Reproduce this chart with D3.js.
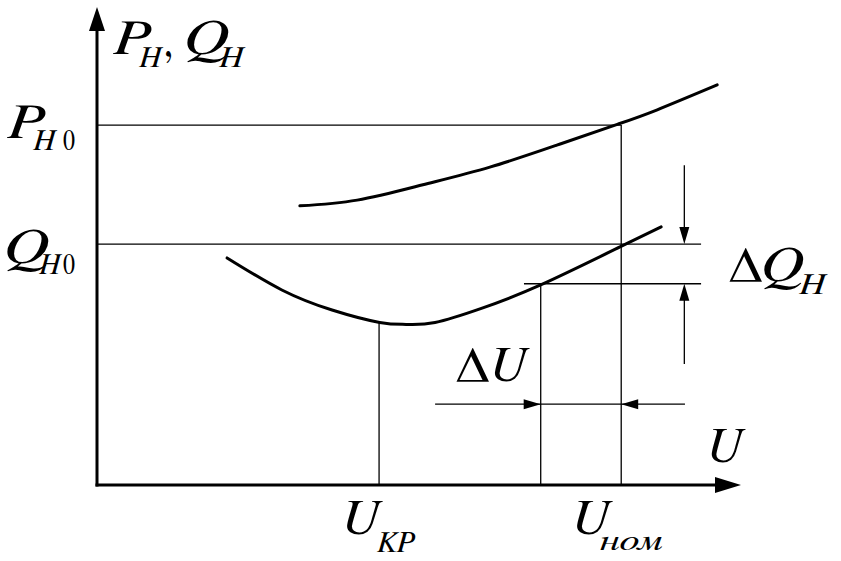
<!DOCTYPE html>
<html>
<head>
<meta charset="utf-8">
<script src="https://cdn.jsdelivr.net/npm/d3@7/dist/d3.min.js"></script>
<style>
html,body{margin:0;padding:0;background:#fff;}
svg{display:block;}
</style>
</head>
<body>
<svg id="chart" width="841" height="561"></svg>
<script>
// ---- data (arbitrary units: U 0..100, P/Q 0..100) ----
const pCurveU = [31.5, 40.4, 50.6, 61.0, 71.4, 80.9, 87.0, 96.3];
const pCurveV = [58.4, 59.6, 62.8, 66.5, 71.1, 75.5, 78.5, 83.7];
const qCurveU = [20.2, 28.7, 36.5, 43.9, 48.0, 52.5, 59.8, 68.8, 81.2, 87.6];
const qCurveV = [47.5, 40.8, 36.6, 34.0, 33.6, 34.0, 37.0, 41.8, 49.8, 54.0];
const markU = [43.8, 68.9, 81.4];          // U_KP, U_nom - ΔU, U_nom
const markQ = [34.0, 42.1, 75.3];          // curve values at those U (vertical line tops)
const levelV = [75.3, 50.4, 42.1];         // P_H0, Q_H0, Q_H0 - ΔQ_H
const levelU0 = [0, 0, 66.3];              // horizontal line starts
const levelU1 = [81.4, 93.8, 93.8];        // horizontal line ends
const dU = {y: 16.9, u0: 52.5, u1: 91.3};
const dQ = {u: 91.2, top: 66.9, bottom: 25.3};

const FONT = "FreeSerif";
const svg = d3.select("#chart");
const x = d3.scaleLinear().domain([0, 100]).range([97, 741]);
const y = d3.scaleLinear().domain([0, 100]).range([485, 7]);

// thin guide lines
const thin = svg.append("g").attr("stroke", "#000").attr("stroke-width", 1.3).attr("fill", "none");
levelV.forEach((v, i) => {
  thin.append("line").attr("x1", x(levelU0[i])).attr("x2", x(levelU1[i]))
      .attr("y1", y(v)).attr("y2", y(v));
});
markU.forEach((u, i) => {
  thin.append("line").attr("x1", x(u)).attr("x2", x(u))
      .attr("y1", y(0)).attr("y2", y(markQ[i]));
});
thin.append("line").attr("x1", x(dU.u0)).attr("x2", x(dU.u1)).attr("y1", y(dU.y)).attr("y2", y(dU.y));
thin.append("line").attr("x1", x(dQ.u)).attr("x2", x(dQ.u)).attr("y1", y(dQ.top)).attr("y2", y(levelV[1]) - 10);
thin.append("line").attr("x1", x(dQ.u)).attr("x2", x(dQ.u)).attr("y1", y(dQ.bottom)).attr("y2", y(levelV[2]) + 10);

function tri(tx, ty, dir, len, hw) {
  let p;
  if (dir === "right") p = [[tx, ty], [tx - len, ty - hw], [tx - len, ty + hw]];
  if (dir === "left")  p = [[tx, ty], [tx + len, ty - hw], [tx + len, ty + hw]];
  if (dir === "down")  p = [[tx, ty], [tx - hw, ty - len], [tx + hw, ty - len]];
  if (dir === "up")    p = [[tx, ty], [tx - hw, ty + len], [tx + hw, ty + len]];
  svg.append("path").attr("d", "M" + p.map(d => d.join(",")).join("L") + "Z").attr("fill", "#000");
}
tri(x(markU[1]), y(dU.y), "right", 17, 5);
tri(x(markU[2]), y(dU.y), "left", 17, 5);
tri(x(dQ.u), y(levelV[1]), "down", 17, 5);
tri(x(dQ.u), y(levelV[2]), "up", 17, 5);

// curves
const line = d3.line().x(d => x(d[0])).y(d => y(d[1])).curve(d3.curveNatural);
svg.append("path").datum(d3.zip(pCurveU, pCurveV)).attr("d", line)
   .attr("fill", "none").attr("stroke", "#000").attr("stroke-width", 3).attr("stroke-linecap", "round");
svg.append("path").datum(d3.zip(qCurveU, qCurveV)).attr("d", line)
   .attr("fill", "none").attr("stroke", "#000").attr("stroke-width", 3).attr("stroke-linecap", "round");

// axes
svg.append("line").attr("x1", x(0)).attr("x2", x(0)).attr("y1", y(0) + 1.5).attr("y2", 28)
   .attr("stroke", "#000").attr("stroke-width", 3);
svg.append("line").attr("x1", x(0) - 1.5).attr("x2", 720).attr("y1", y(0)).attr("y2", y(0))
   .attr("stroke", "#000").attr("stroke-width", 3);
tri(x(0), 7, "up", 24, 8);
tri(741, y(0), "right", 26, 8);

// labels
function lab(txt, px, py, size, w, italic) {
  const t = svg.append("text").attr("x", px).attr("y", py).attr("font-size", size)
     .attr("font-family", FONT).attr("fill", "#000")
     .attr("font-style", italic === false ? "normal" : "italic").text(txt);
  if (w) t.attr("textLength", w).attr("lengthAdjust", "spacingAndGlyphs");
  return t;
}
const big = 50, sub = 30;
// P_H , Q_H
lab("P", 113, 54, big, 36);
lab("H", 139, 67, sub, 22);
lab(",", 164, 56, big, 9, false);
lab("Q", 185, 54, big, 42);
lab("H", 219, 67, sub, 24);
// P_H0
lab("P", 7, 138, big, 36);
lab("H", 33, 150, sub, 22);
lab("0", 63, 150, sub, 12, false);
// Q_H0
lab("Q", 5, 263, big, 42);
lab("H", 39, 274, sub, 21);
lab("0", 63, 274, sub, 12, false);
// ΔQ_H
lab("Δ", 729, 281, big, 34, false);
lab("Q", 762, 281, big, 40);
lab("H", 799, 294, sub, 26);
// ΔU
lab("Δ", 456, 381, big, 34, false);
lab("U", 489, 381, big, 37);
// U axis
lab("U", 706, 462, big, 36);
// U_KP
lab("U", 341, 534, big, 38);
lab("KP", 377, 552, sub, 37);
// U_nom
lab("U", 571, 534, big, 38);
lab("ном", 600, 550, sub, 63);
</script>
</body>
</html>
